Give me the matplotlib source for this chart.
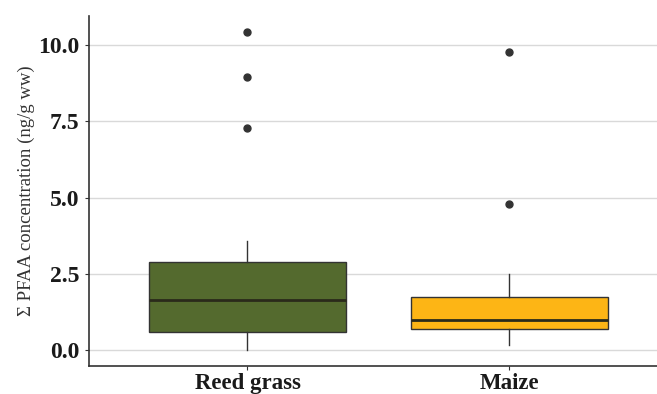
#! /usr/bin/env python3

import matplotlib
matplotlib.use( 'Agg' )
import matplotlib.pyplot as plt

#----------------------------------------------------------------------------
# Data (ng/g ww)
#----------------------------------------------------------------------------
categories = [ 'Reed grass', 'Maize' ]
colors     = [ '#546a2e', '#fdb515' ]

whisk_lo = [ 0.02, 0.16 ]
q1       = [ 0.59, 0.69 ]
median   = [ 1.64, 0.98 ]
q3       = [ 2.89, 1.74 ]
whisk_hi = [ 3.57, 2.49 ]
outliers = [ [ 10.43, 8.95, 7.28 ], [ 9.77, 4.79 ] ]

yticks = [ 0.0, 2.5, 5.0, 7.5, 10.0 ]

#----------------------------------------------------------------------------
def main():
    plt.rcParams['font.family'] = [ 'Liberation Serif', 'DejaVu Serif' ]

    fig = plt.figure( figsize = ( 6.57, 3.94 ), dpi = 100 )
    ax  = fig.add_axes( [ 0.1355, 0.071, 0.865, 0.888 ] )

    stats = []
    for i, name in enumerate( categories ):
        stats.append( dict( label = name, whislo = whisk_lo[i], q1 = q1[i],
                            med = median[i], q3 = q3[i], whishi = whisk_hi[i],
                            fliers = outliers[i] ) )

    bp = ax.bxp( stats, positions = [ 1, 2 ], widths = 0.75,
                 patch_artist = True, showcaps = False,
                 boxprops     = dict( edgecolor = '#333333', linewidth = 1.0 ),
                 medianprops  = dict( color = '#2a2a1a', linewidth = 2.0 ),
                 whiskerprops = dict( color = '#333333', linewidth = 1.0 ),
                 flierprops   = dict( marker = 'o', markerfacecolor = '#333333',
                                      markeredgecolor = '#333333',
                                      markersize = 5 ) )
    for patch, c in zip( bp['boxes'], colors ):
        patch.set_facecolor( c )

    ax.set_xlim( 0.395, 2.565 )
    ax.set_ylim( -0.52, 10.95 )
    ax.set_yticks( yticks )
    ax.set_yticklabels( [ f'{v:.1f}' for v in yticks ] )
    ax.set_xticks( [ 1, 2 ] )
    ax.set_xticklabels( categories )

    ax.yaxis.grid( True, color = '#d9d9d9', linewidth = 1.0 )
    ax.set_axisbelow( True )

    for s in [ 'top', 'right' ]:
        ax.spines[s].set_visible( False )
    for s in [ 'left', 'bottom' ]:
        ax.spines[s].set_color( '#333333' )
        ax.spines[s].set_linewidth( 1.2 )

    ax.tick_params( axis = 'both', length = 3, color = '#333333',
                    labelcolor = '#1a1a1a' )
    ax.tick_params( axis = 'y', labelsize = 17, pad = 4 )
    ax.tick_params( axis = 'x', labelsize = 16.5, pad = 2 )
    for lab in ax.get_xticklabels() + ax.get_yticklabels():
        lab.set_fontweight( 'bold' )

    ax.set_ylabel( '\u03a3 PFAA concentration (ng/g ww)', fontsize = 13.5,
                   color = '#333333', labelpad = 2 )

    fig.savefig( 'out.png', dpi = 100 )

#----------------------------------------------------------------------------
if __name__ == "__main__":
    main()
